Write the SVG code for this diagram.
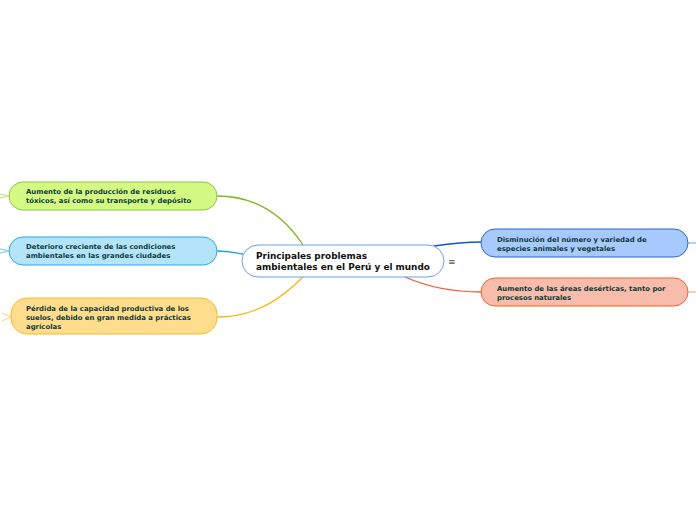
<svg xmlns="http://www.w3.org/2000/svg" width="696" height="520" viewBox="0 0 696 520">
<style>
.t{font-family:"DejaVu Sans","Verdana",sans-serif;font-weight:bold;font-size:6.9px;fill:#0d3a3a}
.c{font-family:"DejaVu Sans","Verdana",sans-serif;font-weight:bold;font-size:8.9px;fill:#111}
.l{fill:none;stroke-width:1.3}
</style>
<rect width="696" height="520" fill="#fff"/>
<g id="connectors">
<path class="l" stroke="#7cb81e" d="M217,196 C262,196 288,222 303,245"/>
<path class="l" stroke="#1ea3e0" d="M217,251 C230,251 235,253 243,254"/>
<path class="l" stroke="#f8b514" d="M217,317 C258,317 284,296 303,277"/>
<path class="l" stroke="#1155cc" d="M434,246 C455,243 465,242 481,242"/>
<path class="l" stroke="#f05a28" d="M405,277 C430,288 455,292 481,292"/>
<path class="l" stroke="#cfe99f" d="M9,196 L0,194 M9,196 L0,198"/>
<path class="l" stroke="#9ed7f2" d="M9,251 L0,249 M9,251 L0,253"/>
<path class="l" stroke="#fbd98a" d="M11,317 L2,313 M11,317 L2,321"/>
<path class="l" stroke="#8db6f0" d="M688,243 L696,243"/>
<path class="l" stroke="#f7b49e" d="M688,292 L696,292"/>
</g>
<g id="central">
<rect x="242" y="245" width="202" height="32" rx="16" fill="#fff" stroke="#6f9fe6" stroke-width="1"/>
<text class="c" x="256" y="259">Principales problemas</text>
<text class="c" x="256" y="270">ambientales en el Perú y el mundo</text>
<text x="448" y="265" font-family="DejaVu Sans,sans-serif" font-size="9" fill="#555">≡</text>
</g>
<g id="n1">
<rect x="9" y="182" width="208" height="28" rx="14" fill="#d5fa84" stroke="#8ec63f" stroke-width="1"/>
<text class="t" x="26" y="194">Aumento de la producción de residuos</text>
<text class="t" x="26" y="203">tóxicos, así como su transporte y depósito</text>
</g>
<g id="n2">
<rect x="9" y="237" width="208" height="28" rx="14" fill="#b3e4fa" stroke="#2ba8e2" stroke-width="1"/>
<text class="t" x="26" y="249">Deterioro creciente de las condiciones</text>
<text class="t" x="26" y="258">ambientales en las grandes ciudades</text>
</g>
<g id="n3">
<rect x="11" y="298" width="206" height="36" rx="16" fill="#ffdd8c" stroke="#f9b823" stroke-width="1"/>
<text class="t" x="26" y="311">Pérdida de la capacidad productiva de los</text>
<text class="t" x="26" y="320">suelos, debido en gran medida a prácticas</text>
<text class="t" x="26" y="329">agrícolas</text>
</g>
<g id="n4">
<rect x="481" y="229" width="207" height="28" rx="14" fill="#a7c9fc" stroke="#2a67d1" stroke-width="1"/>
<text class="t" x="497" y="242">Disminución del número y variedad de</text>
<text class="t" x="497" y="251">especies animales y vegetales</text>
</g>
<g id="n5">
<rect x="481" y="278" width="207" height="28" rx="14" fill="#f8bcaa" stroke="#f0632f" stroke-width="1"/>
<text class="t" x="497" y="291">Aumento de las áreas desérticas, tanto por</text>
<text class="t" x="497" y="300">procesos naturales</text>
</g>
</svg>
